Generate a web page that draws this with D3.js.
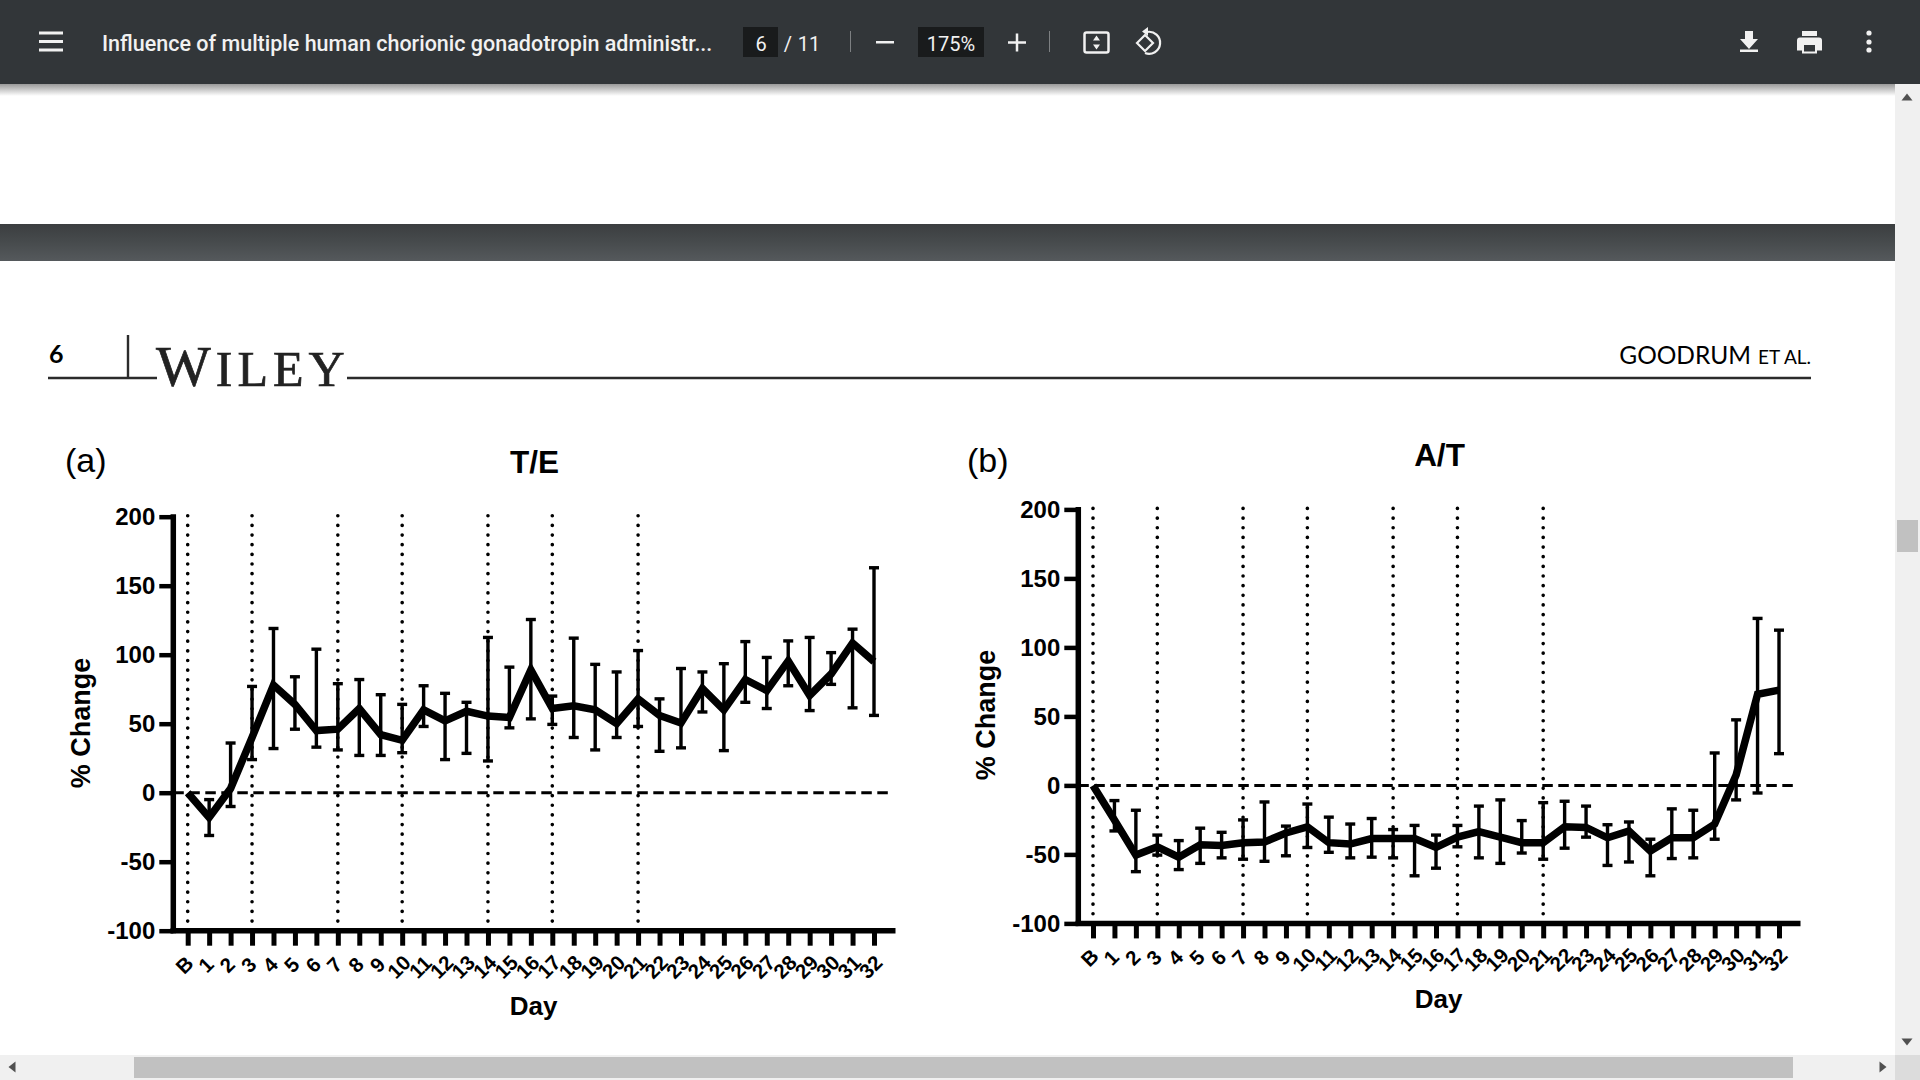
<!DOCTYPE html>
<html>
<head>
<meta charset="utf-8">
<script src="https://cdn.jsdelivr.net/npm/d3@7"></script>
<style>
  html, body { margin: 0; padding: 0; background: #fff; overflow: hidden; }
  svg { display: block; }
  text { font-family: 'Liberation Sans', Arial, sans-serif; fill: #000; }
</style>
</head>
<body>
<div id="chart"></div>
<script>
const days = ['B', '1', '2', '3', '4', '5', '6', '7', '8', '9', '10', '11', '12', '13', '14', '15', '16',
  '17', '18', '19', '20', '21', '22', '23', '24', '25', '26', '27', '28', '29', '30', '31', '32']
const doseDays = ['B', '3', '7', '10', '14', '17', '21']
const yTicks = [-100, -50, 0, 50, 100, 150, 200]

// B has no error bar
const teMean = [0, -18, 3, 40, 78, 64, 45, 46, 61, 42, 38, 60, 52, 59, 55.5, 54.5, 89, 61, 63, 60, 50, 68, 56, 50.5, 75.5, 60, 82, 74, 95.5, 70.5, 86, 108.5, 95]
const teUpper = [null, -5, 36, 77, 119, 84, 104, 79, 82, 71, 64, 77.5, 72, 65.5, 112.5, 91, 125.5, 70, 112, 93, 87.5, 103, 68, 90, 87.5, 93.5, 109.5, 98, 110, 112.5, 101.5, 118.5, 163]
const teLower = [null, -31, -10, 24, 32, 46, 33, 31, 27, 27, 29, 48, 24, 28.5, 23, 47, 53.5, 49.5, 40, 31, 40, 48, 30, 32.5, 58.5, 30.5, 65.5, 61, 77.5, 59.5, 78.5, 61.5, 56]

const atMean = [0, -25, -50.5, -44.5, -52, -43, -43.5, -41.5, -41, -34.5, -30, -41.5, -42.5, -38.5, -38.5, -38.5, -45, -37.5, -33.5, -37.5, -41.5, -41.5, -30, -30.5, -38, -33, -47.5, -38, -38, -28, 7.5, 66, 69]
const atUpper = [null, -11, -18, -36, -40, -31, -34, -25, -12, -29.5, -13.5, -23, -28, -24, -32, -29, -36, -29, -15, -10.5, -25.5, -12.5, -11.5, -15, -28.5, -26.5, -39, -17, -18, 23.5, 47.5, 121, 112.5]
const atLower = [null, -33, -62.5, -50.5, -61, -56.5, -52.5, -53.5, -55, -51, -45, -48.5, -52.5, -52, -52.5, -65.5, -60, -44.5, -52.5, -56.5, -49, -53.5, -45.5, -37.5, -58, -55.5, -65.5, -53, -52.5, -39, -10.5, -5.5, 23]

const svg = d3.select('#chart').append('svg').attr('width', 1920).attr('height', 1080)

function drawPanel(opts) {
  const { mean, upper, lower } = opts
  const x = d3.scalePoint().domain(days).range([opts.x0, opts.x1])
  const y = d3.scaleLinear().domain([-100, 200]).range([opts.yBottom, opts.yTop])
  const g = svg.append('g')

  // injection days
  g.selectAll('.dose')
    .data(doseDays)
    .join('line')
    .attr('class', 'dose')
    .attr('x1', d => x(d))
    .attr('x2', d => x(d))
    .attr('y1', y(200) - 1)
    .attr('y2', y(-100) - 8)
    .attr('stroke', '#000')
    .attr('stroke-width', 3.6)
    .attr('stroke-linecap', 'round')
    .attr('stroke-dasharray', '0.1 9.55')

  // baseline
  g.append('line')
    .attr('x1', opts.axisX)
    .attr('x2', opts.zeroEnd)
    .attr('y1', y(0))
    .attr('y2', y(0))
    .attr('stroke', '#000')
    .attr('stroke-width', 3)
    .attr('stroke-dasharray', '10.5 5.5')

  const rows = days.map((d, i) => ({ day: d, mean: mean[i], upper: upper[i], lower: lower[i] }))
    .filter(d => d.upper !== null)

  const bars = g.selectAll('.bar').data(rows).join('g').attr('class', 'bar').attr('stroke', '#000').attr('stroke-width', 3.4)
  bars.append('line')
    .attr('x1', d => x(d.day))
    .attr('x2', d => x(d.day))
    .attr('y1', d => y(d.upper))
    .attr('y2', d => y(d.lower))
  bars.append('line')
    .attr('x1', d => x(d.day) - 5)
    .attr('x2', d => x(d.day) + 5)
    .attr('y1', d => y(d.upper))
    .attr('y2', d => y(d.upper))
  bars.append('line')
    .attr('x1', d => x(d.day) - 5)
    .attr('x2', d => x(d.day) + 5)
    .attr('y1', d => y(d.lower))
    .attr('y2', d => y(d.lower))

  const line = d3.line().x((d, i) => x(days[i])).y(d => y(d))
  g.append('path')
    .attr('d', line(mean))
    .attr('fill', 'none')
    .attr('stroke', '#000')
    .attr('stroke-width', 7.5)
    .attr('stroke-linejoin', 'miter')

  // axes
  const yAxis = g.append('g')
    .attr('transform', `translate(${opts.axisX},0)`)
    .call(d3.axisLeft(y).tickValues(yTicks).tickFormat(d => String(d)).tickSize(14).tickPadding(4).tickSizeOuter(0))
  yAxis.select('.domain').attr('stroke', '#000').attr('stroke-width', 5.5)
    .attr('d', `M0,${opts.yTop - 2.5}V${opts.yBottom + 2.5}`)
  yAxis.selectAll('.tick line').attr('stroke', '#000').attr('stroke-width', 4.5)
  yAxis.selectAll('text')
    .style('font-family', "'Liberation Sans', Arial, sans-serif")
    .style('font-size', '24px')
    .style('font-weight', 'bold')
    .attr('fill', '#000')

  const xAxis = g.append('g')
    .attr('transform', `translate(0,${opts.yBottom})`)
    .call(d3.axisBottom(x).tickSize(15).tickSizeOuter(0))
  xAxis.select('.domain').remove()
  xAxis.selectAll('.tick line').attr('stroke', '#000').attr('stroke-width', 5)
  xAxis.selectAll('text')
    .style('font-family', "'Liberation Sans', Arial, sans-serif")
    .style('font-size', '20.5px')
    .style('font-weight', 'bold')
    .attr('fill', '#000')
    .attr('text-anchor', 'middle')
    .attr('dy', null)
    .attr('y', null)
    .attr('transform', d => `translate(-4,${d.length > 1 ? 36 : 34}) rotate(-45)`)
    .attr('dominant-baseline', 'central')
  g.append('line')
    .attr('x1', opts.axisX - 2.75)
    .attr('x2', opts.axisEnd)
    .attr('y1', opts.yBottom)
    .attr('y2', opts.yBottom)
    .attr('stroke', '#000')
    .attr('stroke-width', 5.5)

  g.append('text')
    .attr('x', opts.panelX)
    .attr('y', 472)
    .attr('font-size', 34)
    .text(opts.panel)
  g.append('text')
    .attr('x', opts.titleX)
    .attr('y', opts.titleY)
    .attr('text-anchor', 'middle')
    .attr('font-size', 31.5)
    .attr('font-weight', 'bold')
    .text(opts.title)
  g.append('text')
    .attr('x', opts.titleX - 1)
    .attr('y', opts.dayY)
    .attr('text-anchor', 'middle')
    .attr('font-size', 26)
    .attr('font-weight', 'bold')
    .text('Day')
  g.append('text')
    .attr('transform', `translate(${opts.labelX},${opts.labelY}) rotate(-90)`)
    .attr('text-anchor', 'middle')
    .attr('font-size', 27)
    .attr('font-weight', 'bold')
    .text('% Change')
}

function drawViewer() {
  // toolbar
  const shadow = svg.append('defs').append('linearGradient')
    .attr('id', 'shade').attr('x1', 0).attr('x2', 0).attr('y1', 0).attr('y2', 1)
  shadow.append('stop').attr('offset', 0).attr('stop-color', '#9a9a9a')
  shadow.append('stop').attr('offset', 1).attr('stop-color', '#fff')
  const band = svg.select('defs').append('linearGradient')
    .attr('id', 'band').attr('x1', 0).attr('x2', 0).attr('y1', 0).attr('y2', 1)
  band.append('stop').attr('offset', 0).attr('stop-color', '#3b3e40')
  band.append('stop').attr('offset', 0.5).attr('stop-color', '#474b4d')
  band.append('stop').attr('offset', 1).attr('stop-color', '#55595c')

  svg.append('rect').attr('y', 84).attr('width', 1895).attr('height', 12).attr('fill', 'url(#shade)')
  svg.append('rect').attr('y', 224).attr('width', 1895).attr('height', 37).attr('fill', 'url(#band)')
  svg.append('rect').attr('x', 1895).attr('y', 84).attr('width', 25).attr('height', 996).attr('fill', '#f0f0f0')
  svg.append('rect').attr('y', 1055).attr('width', 1920).attr('height', 25).attr('fill', '#f0f0f0')
  svg.append('rect').attr('x', 134).attr('y', 1057).attr('width', 1659).attr('height', 21).attr('fill', '#c1c1c1')
  svg.append('rect').attr('x', 1895).attr('y', 1055).attr('width', 25).attr('height', 25).attr('fill', '#dcdcdc')
  svg.append('rect').attr('x', 1897).attr('y', 520).attr('width', 21).attr('height', 32).attr('fill', '#c1c1c1')
  const arrow = 'M-5.5,3.5L0,-3.5L5.5,3.5Z'
  svg.append('path').attr('d', arrow).attr('fill', '#505050').attr('transform', 'translate(1907,97)')
  svg.append('path').attr('d', arrow).attr('fill', '#505050').attr('transform', 'translate(1907,1042) rotate(180)')
  svg.append('path').attr('d', arrow).attr('fill', '#505050').attr('transform', 'translate(12,1067) rotate(-90)')
  svg.append('path').attr('d', arrow).attr('fill', '#505050').attr('transform', 'translate(1883,1067) rotate(90)')

  svg.append('rect').attr('width', 1920).attr('height', 84).attr('fill', '#323639')
  const bar = svg.append('g')
  bar.selectAll('.menu').data([33, 41.5, 50]).join('rect')
    .attr('x', 39).attr('y', d => d - 1.5).attr('width', 24).attr('height', 3).attr('fill', '#f1f1f1')

  const label = (txt, px, anchor, size, weight) => bar.append('text')
    .attr('x', px).attr('y', 51).attr('text-anchor', anchor)
    .style('font-family', 'Roboto, sans-serif').style('font-size', size + 'px').style('font-weight', weight)
    .style('fill', '#f1f1f1').text(txt)

  label('Influence of multiple human chorionic gonadotropin administr...', 102, 'start', 21.5, 500)
  bar.append('rect').attr('x', 743).attr('y', 27).attr('width', 35).attr('height', 30).attr('fill', '#191b1c')
  label('6', 761, 'middle', 20, 400)
  label('/', 788, 'middle', 20, 400)
  label('11', 809, 'middle', 20, 400)
  bar.append('rect').attr('x', 850).attr('y', 31).attr('width', 1).attr('height', 21).attr('fill', '#7d8082')
  bar.append('rect').attr('x', 876).attr('y', 41).attr('width', 18).attr('height', 2.5).attr('fill', '#f1f1f1')
  bar.append('rect').attr('x', 918).attr('y', 27).attr('width', 66).attr('height', 30).attr('fill', '#191b1c')
  label('175%', 951, 'middle', 20, 400)
  bar.append('path').attr('d', 'M1008,42.5H1026M1017,33.5V51.5').attr('stroke', '#f1f1f1').attr('stroke-width', 2.5)
  bar.append('rect').attr('x', 1049).attr('y', 31).attr('width', 1).attr('height', 21).attr('fill', '#7d8082')

  // fit to page
  bar.append('rect').attr('x', 1084.5).attr('y', 32.5).attr('width', 24).attr('height', 20).attr('rx', 2)
    .attr('fill', 'none').attr('stroke', '#f1f1f1').attr('stroke-width', 2.5)
  bar.append('path').attr('d', 'M1096.5,35.5l3.5,5h-7ZM1096.5,49.5l3.5,-5h-7Z').attr('fill', '#f1f1f1')
  // rotate
  bar.append('path').attr('d', 'M1137,43l8,-8l8,8l-8,8Z').attr('fill', 'none').attr('stroke', '#f1f1f1').attr('stroke-width', 2.2)
  bar.append('path').attr('d', 'M1147,32a11,11 0 1 1 -2,21').attr('fill', 'none').attr('stroke', '#f1f1f1').attr('stroke-width', 2.2)
  bar.append('path').attr('d', 'M1148,27v9l-6,-4.5Z').attr('fill', '#f1f1f1')

  // download, print, more
  bar.append('path').attr('d', 'M1745,31h8v8h5l-9,10l-9,-10h5ZM1740,49.5h18v2.5h-18Z').attr('fill', '#f1f1f1')
  bar.append('path').attr('d', 'M1802,31h15v5h-15ZM1800,37.5h19a3,3 0 0 1 3,3v10h-5v3h-15v-3h-5v-10a3,3 0 0 1 3,-3Z').attr('fill', '#f1f1f1')
  bar.append('rect').attr('x', 1804).attr('y', 45).attr('width', 11).attr('height', 6.5).attr('fill', '#323639')
  bar.selectAll('.more').data([33, 42, 50]).join('circle')
    .attr('cx', 1869).attr('cy', d => d).attr('r', 2.6).attr('fill', '#f1f1f1')

  // journal running head
  const head = svg.append('g')
  head.append('path')
    .attr('d', 'M48,378H157M128,335V378M347,378H1811')
    .attr('fill', 'none').attr('stroke', '#2b2b2b').attr('stroke-width', 2.4)
  head.append('text').attr('x', 49).attr('y', 363)
    .style('font-family', 'Lato, sans-serif').style('font-size', '25px').style('font-weight', 'bold').text('6')
  const wiley = head.append('text').attr('x', 156).attr('y', 386)
    .style('font-family', "'Liberation Serif', serif").style('fill', '#222')
    .style('stroke', '#222').style('stroke-width', 0.7)
  wiley.append('tspan').style('font-size', '58px').text('W')
  wiley.append('tspan').attr('dx', 5).style('font-size', '50px').style('letter-spacing', '5px').text('ILEY')
  const author = head.append('text').attr('x', 1811).attr('y', 364).attr('text-anchor', 'end')
    .style('font-family', 'Lato, sans-serif')
  author.append('tspan').style('font-size', '24.5px').text('GOODRUM')
  author.append('tspan').attr('dx', 7).style('font-size', '19px').text('ET AL.')
}

drawViewer()

drawPanel({
  panel: '(a)', title: 'T/E', mean: teMean, upper: teUpper, lower: teLower,
  x0: 187.7, x1: 874, yTop: 516.7, yBottom: 930.7, axisX: 173.3, axisEnd: 895.5, zeroEnd: 890,
  panelX: 65, titleX: 534.5, titleY: 473, dayY: 1015, labelX: 90, labelY: 723
})

drawPanel({
  panel: '(b)', title: 'A/T', mean: atMean, upper: atUpper, lower: atLower,
  x0: 1093, x1: 1779, yTop: 509.4, yBottom: 923.4, axisX: 1078.3, axisEnd: 1800.5, zeroEnd: 1795,
  panelX: 967, titleX: 1439.5, titleY: 466, dayY: 1008, labelX: 995, labelY: 715
})
</script>
</body>
</html>
